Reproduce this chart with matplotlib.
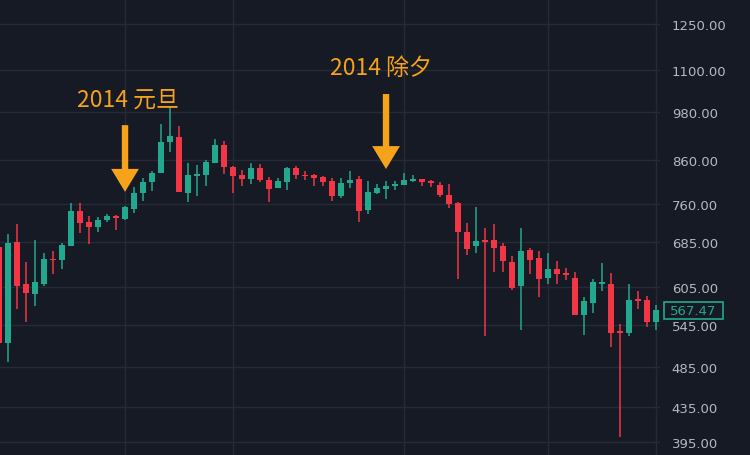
import numpy as np
import matplotlib
matplotlib.use("Agg")
import matplotlib.pyplot as plt
from matplotlib.ticker import FixedLocator, NullLocator, FuncFormatter

# daily candles (Dec 2013 - Feb 2014)
opens = [676, 519, 686, 611, 594, 611, 654, 652, 678, 747,
         724, 715, 728, 737, 730, 751, 785, 809, 829, 903,
         915, 785, 822, 825, 852, 896, 843, 825, 816, 841,
         813, 796, 809, 841, 825, 825, 820, 811, 778, 807,
         816, 749, 785, 793, 800, 802, 811, 816, 809, 802,
         780, 763, 705, 678, 689, 689, 678, 649, 607, 671,
         656, 621, 636, 628, 621, 561, 580, 610, 610, 535,
         534, 584, 584, 550]
highs = [691, 701, 720, 649, 689, 665, 669, 684, 763, 763,
         737, 735, 741, 739, 757, 798, 818, 834, 949, 995,
         944, 852, 847, 859, 911, 906, 845, 836, 852, 849,
         820, 818, 843, 845, 834, 827, 822, 818, 818, 834,
         822, 811, 804, 811, 811, 829, 825, 816, 813, 809,
         804, 765, 722, 755, 713, 720, 684, 660, 713, 674,
         669, 665, 651, 638, 631, 589, 619, 647, 629, 547,
         611, 599, 591, 576]
lows = [517, 493, 570, 550, 575, 607, 628, 636, 678, 703,
        682, 705, 724, 709, 728, 743, 768, 789, 829, 879,
        787, 765, 778, 800, 852, 827, 785, 800, 804, 809,
        765, 796, 791, 816, 813, 800, 800, 768, 774, 796,
        724, 741, 783, 772, 791, 802, 809, 800, 798, 776,
        753, 619, 661, 665, 529, 631, 631, 601, 538, 628,
        589, 611, 611, 617, 561, 531, 564, 599, 513, 400,
        529, 570, 542, 537]
closes = [519, 684, 607, 596, 614, 654, 652, 680, 747, 722,
          715, 728, 737, 733, 755, 785, 809, 829, 903, 918,
          787, 825, 827, 855, 896, 843, 822, 816, 841, 813,
          793, 811, 841, 825, 822, 818, 809, 778, 807, 813,
          747, 787, 796, 800, 804, 813, 816, 809, 807, 780,
          761, 705, 673, 688, 686, 674, 651, 604, 669, 652,
          619, 636, 628, 626, 561, 583, 613, 613, 534, 534,
          584, 583, 550, 567.47]

price_ticks = [395, 435, 485, 545, 605, 685, 760, 860, 980, 1100, 1250]
vgrid_idx = [14, 26, 45, 61, 73]

# annotations: (label, candle index, price at arrow tip)
notes = [("2014 元旦", 14, 787), ("2014 除夕", 43, 838)]

bg = "#161a25"
green = "#22a88e"
red = "#f23645"
orange = "#f7a21b"
grid_c = "#262a36"
label_c = "#b5b8c1"

fig = plt.figure(figsize=(7.5, 4.56), dpi=100, facecolor=bg)
ax = fig.add_axes([0, 0, 660 / 750, 1])
ax.set_facecolor(bg)
ax.set_yscale("log")

o = np.array(opens, dtype=float)
h = np.array(highs, dtype=float)
l = np.array(lows, dtype=float)
c = np.array(closes, dtype=float)
x = np.arange(len(o))
up = c >= o
cols = np.where(up, green, red)

ax.vlines(x, l, h, colors=cols, linewidth=1.1, zorder=3)
bot = np.minimum(o, c)
top = np.maximum(o, c)
hgt = np.maximum(top - bot, bot * 0.004)
ax.bar(x, hgt, bottom=bot, width=0.76, color=cols, linewidth=0, zorder=4)

ax.set_xlim(0.11, 73.44)
ax.set_ylim(381, 1339)

# grid
for p in price_ticks:
    ax.axhline(p, color=grid_c, linewidth=1, zorder=1)
for i in vgrid_idx:
    ax.axvline(i, color=grid_c, linewidth=1, zorder=1)

ax.yaxis.tick_right()
ax.yaxis.set_major_locator(FixedLocator(price_ticks))
ax.yaxis.set_minor_locator(NullLocator())
ax.yaxis.set_major_formatter(FuncFormatter(lambda v, p: f"{v:.2f}"))
ax.tick_params(axis="y", length=0, pad=8.5, labelsize=9.5, labelcolor=label_c)
ax.set_xticks([])
for s in ax.spines.values():
    s.set_visible(False)

# last price tag
ax.annotate(f"{closes[-1]:.2f}", xy=(1, closes[-1]), xycoords=("axes fraction", "data"),
            xytext=(7.5, 0), textcoords="offset points", ha="left", va="center",
            fontsize=9.5, color=green,
            bbox=dict(boxstyle="square,pad=0.45", fc=bg, ec=green, lw=1.2,
                      mutation_aspect=0.3),
            annotation_clip=False, zorder=6)

# arrows + labels
txt_off = [(2, 67), (-4, 73)]
for (lab, i, p), (dx, dy) in zip(notes, txt_off):
    ax.annotate("", xy=(i, p), xytext=(0, dy - 19), textcoords="offset points",
                arrowprops=dict(arrowstyle="simple,head_length=16.5,head_width=20,tail_width=4.6",
                                mutation_scale=1, color=orange, lw=0,
                                shrinkA=0, shrinkB=0), zorder=7)
    ax.annotate(lab, xy=(i, p), xytext=(dx, dy), textcoords="offset points",
                ha="center", va="center", fontsize=16.5, color=orange,
                family=["Noto Sans CJK SC", "DejaVu Sans"], zorder=7)

plt.savefig("out.png", dpi=100, facecolor=bg)
